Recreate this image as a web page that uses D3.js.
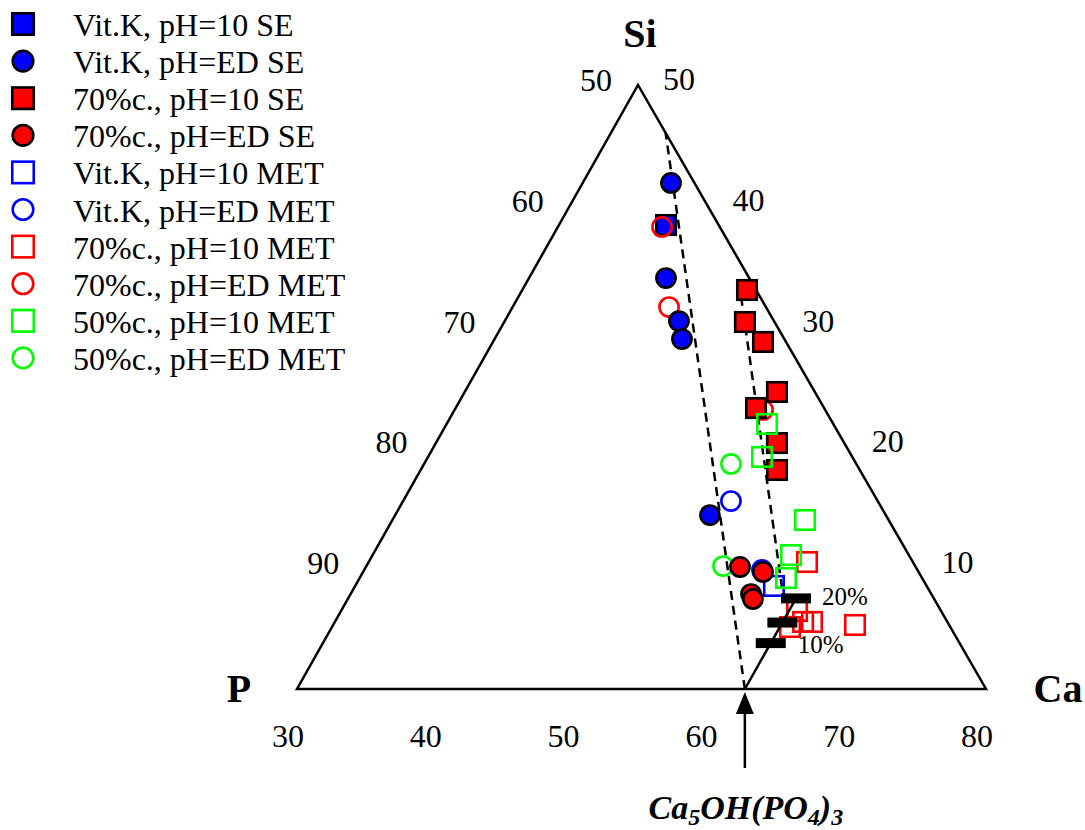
<!DOCTYPE html>
<html><head><meta charset="utf-8">
<script src="https://cdn.jsdelivr.net/npm/d3@7"></script>
<style>
body{margin:0;background:#fff;}
text{font-family:"Liberation Serif","Times New Roman",serif;fill:#000;}
</style>
</head><body>
<svg id="c" width="1085" height="830"></svg>
<script>
// ---------------- data (Ca at.%, Si at.%) ----------------
const seriesNames = [
  "Vit.K, pH=10 SE","Vit.K, pH=ED SE","70%c., pH=10 SE","70%c., pH=ED SE",
  "Vit.K, pH=10 MET","Vit.K, pH=ED MET","70%c., pH=10 MET","70%c., pH=ED MET",
  "50%c., pH=10 MET","50%c., pH=ED MET"
];
const vitK10SE  = [[37.77,38.41]];
const vitKEDSE  = [[36.41,41.89],[39.94,34.02],[42.64,30.46],[43.60,28.97],[52.84,14.40]];
const c70_10SE  = [[46.31,33.03],[47.47,30.38],[49.60,28.73],[52.66,24.59],[51.80,23.26],[54.75,20.36],[55.86,18.13]];
const c70_EDSE  = [[57.15,10.10],[59.02,9.69],[59.06,7.86],[59.40,7.45]];
const vitK10MET = [[60.39,8.53]];
const vitKEDMET = [[53.79,15.56],[58.87,9.85]];
const c70_10MET = [[61.81,10.51],[63.09,6.46],[63.24,5.13],[63.98,5.55],[64.63,5.55],[67.87,5.30]];
const c70_EDMET = [[37.56,38.25],[41.35,31.62],[52.39,23.10]];
const c50_10MET = [[53.25,21.94],[54.24,19.21],[59.94,13.99],[60.36,11.09],[60.94,9.19]];
const c50_EDMET = [[52.27,18.63],[55.88,10.18]];

const bottomTicks = [30,40,50,60,70,80];
const leftTicks   = [50,60,70,80,90];
const rightTicks  = [50,40,30,20,10];

const hapCa = 62.5;                       // Ca5OH(PO4)3
const substitution = [3.8, 5.5, 7.5];     // Si levels on the HA line
const substLabels  = ["10%", "", "20%"];
const tieLine1 = [[62.5,0],[33.97,46.03]];
const tieLine2 = [[61.06,8.36],[46.12,32.53]];

// ---------------- styles ----------------
const styles = [
  {shape:"square", color:"#0000ff", filled:true},
  {shape:"circle", color:"#0000ff", filled:true},
  {shape:"square", color:"#ff0000", filled:true},
  {shape:"circle", color:"#ff0000", filled:true},
  {shape:"square", color:"#0000ff", filled:false},
  {shape:"circle", color:"#0000ff", filled:false},
  {shape:"square", color:"#ff0000", filled:false},
  {shape:"circle", color:"#ff0000", filled:false},
  {shape:"square", color:"#00ff00", filled:false},
  {shape:"circle", color:"#00ff00", filled:false}
];
const seriesData = [vitK10SE, vitKEDSE, c70_10SE, c70_EDSE, vitK10MET, vitKEDMET, c70_10MET, c70_EDMET, c50_10MET, c50_EDMET];
const drawOrder = [0, 7, 1, 4, 5, 9, 2, 3, 6, 8];

// ---------------- scales / projection ----------------
const svg = d3.select("#c");
const xS = d3.scaleLinear().domain([30,80]).range([297,986]);
const yS = d3.scaleLinear().domain([0,50]).range([689,85]);
const apexX = 638;
const shear = d3.scaleLinear().domain([0,50]).range([0, apexX - xS(30)]);
const proj = (ca, si) => [xS(ca) + shear(si), yS(si)];

// triangle
const Pv = proj(30,0), Cav = proj(80,0), Siv = proj(30,50);
svg.append("path")
  .attr("d", d3.line()([Pv, Cav, Siv]) + "Z")
  .attr("fill","none").attr("stroke","#000").attr("stroke-width",2.5)
  .attr("stroke-linejoin","miter");

// tick labels
const tickFont = 32;
svg.selectAll(".bt").data(bottomTicks).join("text")
  .attr("x", d => xS(d) - 9).attr("y", 747)
  .attr("text-anchor","middle").attr("font-size",tickFont).text(d => d);
svg.selectAll(".lt").data(leftTicks).join("text")
  .attr("x", d => proj(30, 100 - d)[0] - 42).attr("y", d => proj(30, 100 - d)[1] + 6)
  .attr("text-anchor","middle").attr("font-size",tickFont).text(d => d);
svg.selectAll(".rt").data(rightTicks).join("text")
  .attr("x", d => proj(80 - d, d)[0] + 41).attr("y", d => proj(80 - d, d)[1] + 5)
  .attr("text-anchor","middle").attr("font-size",tickFont).text(d => d);

// vertex labels
const vfont = 40;
svg.append("text").attr("x",640).attr("y",47).attr("text-anchor","middle")
  .attr("font-size",vfont).attr("font-weight","bold").text("Si");
svg.append("text").attr("x",239).attr("y",702).attr("text-anchor","middle")
  .attr("font-size",vfont).attr("font-weight","bold").text("P");
svg.append("text").attr("x",1058).attr("y",702).attr("text-anchor","middle")
  .attr("font-size",vfont).attr("font-weight","bold").text("Ca");

// dashed tie lines
[tieLine1, tieLine2].forEach(l => {
  svg.append("path").attr("d", d3.line()(l.map(p => proj(p[0], p[1]))))
    .attr("fill","none").attr("stroke","#000").attr("stroke-width",2.5)
    .attr("stroke-dasharray","9,6");
});

// markers
function drawMarker(g, st, x, y, big) {
  const fillC = st.filled ? st.color : "none";
  const strokeC = st.filled ? "#000" : st.color;
  if (st.shape === "square") {
    const s = big ? 21.5 : 19.5;
    g.append("rect").attr("x", x - s/2).attr("y", y - s/2).attr("width", s).attr("height", s)
      .attr("fill", fillC).attr("stroke", strokeC).attr("stroke-width", 2.6);
  } else {
    const r = big ? 10.3 : 9.6;
    g.append("circle").attr("cx", x).attr("cy", y).attr("r", r)
      .attr("fill", fillC).attr("stroke", strokeC).attr("stroke-width", 2.6);
  }
}
const mg = svg.append("g");
drawOrder.forEach(i => {
  seriesData[i].forEach(p => {
    const [x, y] = proj(p[0], p[1]);
    drawMarker(mg, styles[i], x, y, false);
  });
});

// HA substitution line and bars
const hap0 = proj(hapCa, 0);
const hapTop = proj(hapCa, d3.max(substitution));
svg.append("line").attr("x1",hap0[0]).attr("y1",hap0[1]).attr("x2",hapTop[0]).attr("y2",hapTop[1])
  .attr("stroke","#000").attr("stroke-width",2.5);
substitution.forEach((s, i) => {
  const [x, y] = proj(hapCa, s);
  svg.append("rect").attr("x", x - 15).attr("y", y - 5).attr("width", 30).attr("height", 10).attr("fill","#000");
  if (substLabels[i]) {
    svg.append("text").attr("x", x + (i === 0 ? 27 : 26)).attr("y", y + (i === 0 ? 10 : 7))
      .attr("font-size", 25).text(substLabels[i]);
  }
});

// arrow to hydroxyapatite
const ax = xS(hapCa);
svg.append("line").attr("x1",ax).attr("y1",768).attr("x2",ax).attr("y2",710)
  .attr("stroke","#000").attr("stroke-width",2.5);
svg.append("path").attr("d", d3.line()([[ax,692],[ax-9,714],[ax+9,714]]) + "Z").attr("fill","#000");

const ha = svg.append("text").attr("x", ax + 1).attr("y", 819).attr("text-anchor","middle")
  .attr("font-size",34).attr("font-weight","bold").attr("font-style","italic");
ha.append("tspan").text("Ca");
ha.append("tspan").attr("font-size",24).attr("dy",6).text("5");
ha.append("tspan").attr("dy",-6).text("OH(PO");
ha.append("tspan").attr("font-size",24).attr("dy",6).text("4");
ha.append("tspan").attr("dy",-6).text(")");
ha.append("tspan").attr("font-size",24).attr("dy",6).text("3");

// legend
const lg = svg.append("g");
seriesNames.forEach((name, i) => {
  const y = 24 + i * 37.1;
  drawMarker(lg, styles[i], 23, y, true);
  lg.append("text").attr("x", 73).attr("y", y + 12).attr("font-size", 32).text(name);
});
</script>
</body></html>
